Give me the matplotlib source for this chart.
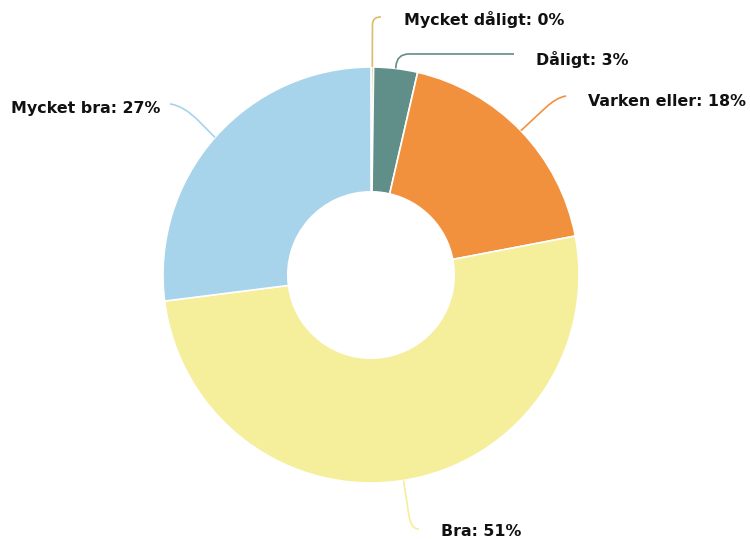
import numpy as np
import matplotlib
matplotlib.use("Agg")
import matplotlib.pyplot as plt
from matplotlib.path import Path
from matplotlib.patches import PathPatch

# Data
kategorier = ["Mycket dåligt", "Dåligt", "Varken eller", "Bra", "Mycket bra"]
andelar = [0.2, 3.4, 18.4, 51.0, 27.0]
etiketter = ["Mycket dåligt: 0%", "Dåligt: 3%", "Varken eller: 18%", "Bra: 51%", "Mycket bra: 27%"]
farger = ["#d8bd6a", "#5f8f88", "#f2913d", "#f5ee9a", "#a7d3eb"]

W, H = 750, 539
fig = plt.figure(figsize=(W / 100, H / 100), dpi=100)
ax = fig.add_axes([0, 0, 1, 1])
ax.axis("off")

cx, cy, R = 371, 275, 208
# y axis is inverted, so counterclock=True draws clockwise on screen, startangle -90 = top
wedges, _ = ax.pie(andelar, colors=farger, center=(cx, cy), radius=R,
                   startangle=-90, counterclock=True,
                   wedgeprops=dict(width=R * 0.6, edgecolor="white", linewidth=1.2),
                   frame=False)
ax.set_xlim(0, W)
ax.set_ylim(H, 0)
ax.set_aspect("auto")

# Label layout: (corner, end of leader, radius of bend, text x, text y, alignment)
layout = [
    ((372.5, 17), (381, 17), 8, 404, 20, "left"),
    ((397, 54), (514, 54), 12, 536, 60, "left"),
    ((556, 98), (566, 96), 14, 588, 101, "left"),
    ((411, 529), (419, 529), 14, 441, 531, "left"),
    ((184, 106), (170, 104), 22, 160, 108, "right"),
]


def leder(p0, c, e, r, farg):
    p0, c, e = np.array(p0), np.array(c), np.array(e)
    d1, d2 = p0 - c, e - c
    r1 = min(r, np.linalg.norm(d1) * 0.9)
    r2 = min(r, np.linalg.norm(d2) * 0.9)
    a = c + d1 / np.linalg.norm(d1) * r1
    b = c + d2 / np.linalg.norm(d2) * r2
    verts = [p0, a, c, b, e]
    codes = [Path.MOVETO, Path.LINETO, Path.CURVE3, Path.CURVE3, Path.LINETO]
    ax.add_patch(PathPatch(Path(verts, codes), fill=False, edgecolor=farg, lw=1.2))


for w, farg, text, (c, e, r, tx, ty, ha) in zip(wedges, farger, etiketter, layout):
    mitt = np.deg2rad((w.theta1 + w.theta2) / 2)
    p0 = (cx + R * np.cos(mitt), cy + R * np.sin(mitt))
    leder(p0, c, e, r, farg)
    ax.text(tx, ty, text, ha=ha, va="center", fontsize=11.4,
            fontweight="bold", color="#111111", family="DejaVu Sans")

fig.savefig("out.png", dpi=100)
